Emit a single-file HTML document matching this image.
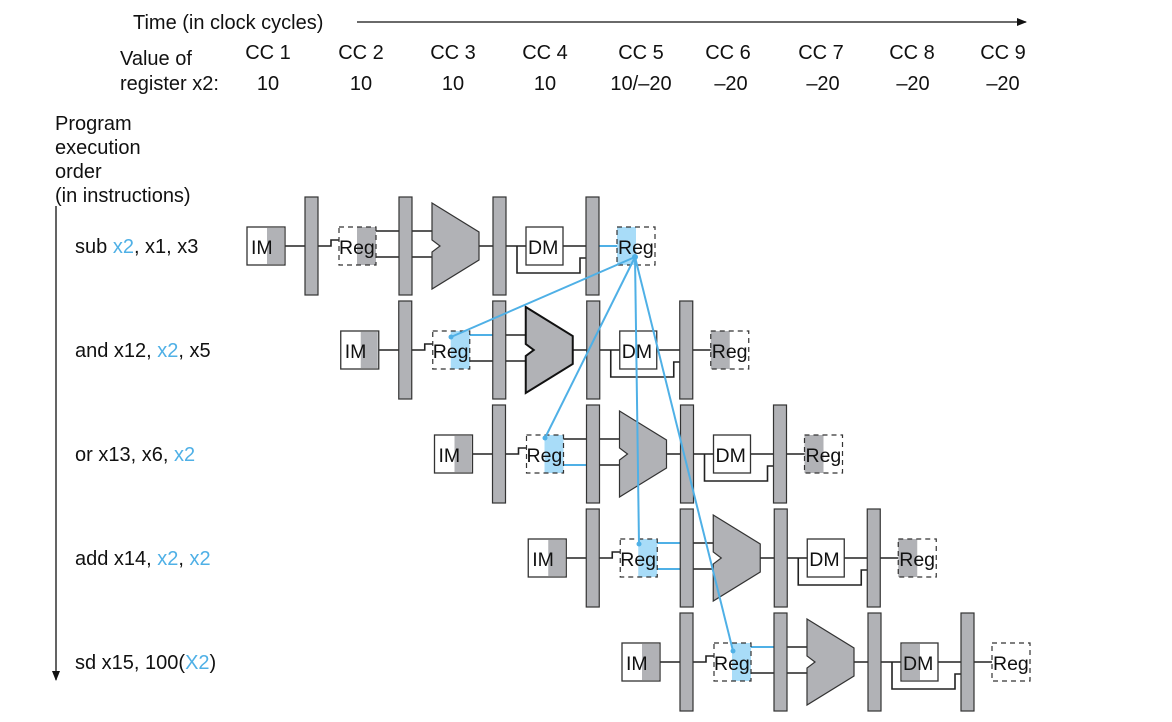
<!DOCTYPE html>
<html><head><meta charset="utf-8"><style>
body{margin:0;background:#fff}
svg{display:block}
text{font-family:"Liberation Sans",Arial,sans-serif;font-size:20px;fill:#111}
.bx{font-size:19.5px}
.b{fill:#4fb0e6}
.bar{fill:#b1b2b6;stroke:#333;stroke-width:1.2}
.box{fill:#fff;stroke:#333;stroke-width:1.3}
.dash{fill:none;stroke:#333;stroke-width:1.2;stroke-dasharray:5 4}
.g{fill:#b1b2b6}
.bl{fill:#a8dcf8}
.w{fill:none;stroke:#222;stroke-width:1.6}
.wb{fill:none;stroke:#4fb0e6;stroke-width:2}
.alu{fill:#b1b2b6;stroke:#333;stroke-width:1.2}
</style></head><body>
<svg width="1172" height="722" viewBox="0 0 1172 722">
<defs><marker id="ah" markerWidth="10" markerHeight="10" refX="9" refY="5" orient="auto" markerUnits="userSpaceOnUse"><path d="M0,1 L10,5 L0,9z" fill="#111"/></marker></defs>
<text x="133" y="29">Time (in clock cycles)</text>
<line x1="357" y1="22" x2="1026" y2="22" stroke="#111" stroke-width="1.3" marker-end="url(#ah)"/>
<text x="120" y="65">Value of</text>
<text x="120" y="90">register x2:</text>
<g text-anchor="middle">
<text x="268" y="59">CC 1</text><text x="361" y="59">CC 2</text><text x="453" y="59">CC 3</text><text x="545" y="59">CC 4</text><text x="641" y="59">CC 5</text><text x="728" y="59">CC 6</text><text x="821" y="59">CC 7</text><text x="912" y="59">CC 8</text><text x="1003" y="59">CC 9</text>
<text x="268" y="90">10</text><text x="361" y="90">10</text><text x="453" y="90">10</text><text x="545" y="90">10</text><text x="641" y="90">10/–20</text><text x="731" y="90">–20</text><text x="823" y="90">–20</text><text x="913" y="90">–20</text><text x="1003" y="90">–20</text>
</g>
<text x="55" y="130">Program</text><text x="55" y="154">execution</text><text x="55" y="178">order</text><text x="55" y="202">(in instructions)</text>
<line x1="56" y1="206" x2="56" y2="680" stroke="#111" stroke-width="1.3" marker-end="url(#ah)"/>
<text x="75" y="253">sub <tspan class="b">x2</tspan>, x1, x3</text>
<text x="75" y="357">and x12, <tspan class="b">x2</tspan>, x5</text>
<text x="75" y="461">or x13, x6, <tspan class="b">x2</tspan></text>
<text x="75" y="565">add x14, <tspan class="b">x2</tspan>, <tspan class="b">x2</tspan></text>
<text x="75" y="669">sd x15, 100(<tspan class="b">X2</tspan>)</text>

<!-- Row 1 -->
<g>
<path class="w" d="M285,246H305M318,246H331V240H339M376,231H399M412,231H432M376,257H399M412,257H432M479,246H493M505,246H526M517,246V273H580V258H586M563,246H586"/>
<path class="wb" d="M598,246H617"/>
<rect class="box" x="247" y="227" width="38" height="38"/><rect class="g" x="267" y="228" width="17" height="36"/><text class="bx" x="251" y="254">IM</text>
<rect class="bar" x="305" y="197" width="13" height="98"/><rect class="bar" x="399" y="197" width="13" height="98"/><rect class="bar" x="493" y="197" width="13" height="98"/><rect class="bar" x="586" y="197" width="13" height="98"/>
<rect class="g" x="357" y="227" width="19" height="38"/><rect class="dash" x="339" y="227" width="37" height="38"/><text class="bx" x="339" y="254">Reg</text>
<polygon class="alu" points="432,203 479,232 479,260 432,289 432,252 440,246 432,240"/>
<rect class="box" x="526" y="227" width="37" height="38"/><text class="bx" x="528" y="254">DM</text>
<rect class="bl" x="617" y="227" width="19" height="38"/><rect class="dash" x="617" y="227" width="38" height="38"/><text class="bx" x="618" y="254">Reg</text>
</g>

<!-- Row 2 -->
<g transform="translate(93.75,104)">
<path class="w" d="M285,246H305M318,246H331V240H339M412,231H432M376,257H399M412,257H432M479,246H493M505,246H526M517,246V273H580V258H586M563,246H586M598,246H617"/>
<path class="wb" d="M376,231H399"/>
<rect class="box" x="247" y="227" width="38" height="38"/><rect class="g" x="267" y="228" width="17" height="36"/><text class="bx" x="251" y="254">IM</text>
<rect class="bar" x="305" y="197" width="13" height="98"/><rect class="bar" x="399" y="197" width="13" height="98"/><rect class="bar" x="493" y="197" width="13" height="98"/><rect class="bar" x="586" y="197" width="13" height="98"/>
<rect class="bl" x="357" y="227" width="19" height="38"/><rect class="dash" x="339" y="227" width="37" height="38"/><text class="bx" x="339" y="254">Reg</text>
<polygon class="alu" style="stroke:#111;stroke-width:2" points="432,203 479,232 479,260 432,289 432,252 440,246 432,240"/>
<rect class="box" x="526" y="227" width="37" height="38"/><text class="bx" x="528" y="254">DM</text>
<rect class="g" x="617" y="227" width="19" height="38"/><rect class="dash" x="617" y="227" width="38" height="38"/><text class="bx" x="618" y="254">Reg</text>
</g>

<!-- Row 3 -->
<g transform="translate(187.5,208)">
<path class="w" d="M285,246H305M318,246H331V240H339M376,231H399M412,231H432M412,257H432M479,246H493M505,246H526M517,246V273H580V258H586M563,246H586M598,246H617"/>
<path class="wb" d="M376,257H399"/>
<rect class="box" x="247" y="227" width="38" height="38"/><rect class="g" x="267" y="228" width="17" height="36"/><text class="bx" x="251" y="254">IM</text>
<rect class="bar" x="305" y="197" width="13" height="98"/><rect class="bar" x="399" y="197" width="13" height="98"/><rect class="bar" x="493" y="197" width="13" height="98"/><rect class="bar" x="586" y="197" width="13" height="98"/>
<rect class="bl" x="357" y="227" width="19" height="38"/><rect class="dash" x="339" y="227" width="37" height="38"/><text class="bx" x="339" y="254">Reg</text>
<polygon class="alu" points="432,203 479,232 479,260 432,289 432,252 440,246 432,240"/>
<rect class="box" x="526" y="227" width="37" height="38"/><text class="bx" x="528" y="254">DM</text>
<rect class="g" x="617" y="227" width="19" height="38"/><rect class="dash" x="617" y="227" width="38" height="38"/><text class="bx" x="618" y="254">Reg</text>
</g>

<!-- Row 4 -->
<g transform="translate(281.25,312)">
<path class="w" d="M285,246H305M318,246H331V240H339M412,231H432M412,257H432M479,246H493M505,246H526M517,246V273H580V258H586M563,246H586M598,246H617"/>
<path class="wb" d="M376,231H399M376,257H399"/>
<rect class="box" x="247" y="227" width="38" height="38"/><rect class="g" x="267" y="228" width="17" height="36"/><text class="bx" x="251" y="254">IM</text>
<rect class="bar" x="305" y="197" width="13" height="98"/><rect class="bar" x="399" y="197" width="13" height="98"/><rect class="bar" x="493" y="197" width="13" height="98"/><rect class="bar" x="586" y="197" width="13" height="98"/>
<rect class="bl" x="357" y="227" width="19" height="38"/><rect class="dash" x="339" y="227" width="37" height="38"/><text class="bx" x="339" y="254">Reg</text>
<polygon class="alu" points="432,203 479,232 479,260 432,289 432,252 440,246 432,240"/>
<rect class="box" x="526" y="227" width="37" height="38"/><text class="bx" x="528" y="254">DM</text>
<rect class="g" x="617" y="227" width="19" height="38"/><rect class="dash" x="617" y="227" width="38" height="38"/><text class="bx" x="618" y="254">Reg</text>
</g>

<!-- Row 5 -->
<g transform="translate(375,416)">
<path class="w" d="M285,246H305M318,246H331V240H339M412,231H432M376,257H399M412,257H432M479,246H493M505,246H526M517,246V273H580V258H586M563,246H586M598,246H617"/>
<path class="wb" d="M376,231H399"/>
<rect class="box" x="247" y="227" width="38" height="38"/><rect class="g" x="267" y="228" width="17" height="36"/><text class="bx" x="251" y="254">IM</text>
<rect class="bar" x="305" y="197" width="13" height="98"/><rect class="bar" x="399" y="197" width="13" height="98"/><rect class="bar" x="493" y="197" width="13" height="98"/><rect class="bar" x="586" y="197" width="13" height="98"/>
<rect class="bl" x="357" y="227" width="19" height="38"/><rect class="dash" x="339" y="227" width="37" height="38"/><text class="bx" x="339" y="254">Reg</text>
<polygon class="alu" points="432,203 479,232 479,260 432,289 432,252 440,246 432,240"/>
<rect class="box" x="526" y="227" width="37" height="38"/><rect class="g" x="527" y="228" width="18" height="36"/><text class="bx" x="528" y="254">DM</text>
<rect class="dash" x="617" y="227" width="38" height="38"/><text class="bx" x="618" y="254">Reg</text>
</g>

<!-- forwarding lines -->
<g class="wb">
<line x1="635" y1="257" x2="451" y2="337"/>
<line x1="635" y1="257" x2="545" y2="438"/>
<line x1="635" y1="257" x2="639" y2="544"/>
<line x1="635" y1="257" x2="733" y2="651"/>
</g>
<g fill="#4fb0e6"><circle cx="635" cy="257" r="3"/><circle cx="451" cy="337" r="2.5"/><circle cx="545" cy="438" r="2.5"/><circle cx="639" cy="544" r="2.5"/><circle cx="733" cy="651" r="2.5"/></g>
</svg>
</body></html>
